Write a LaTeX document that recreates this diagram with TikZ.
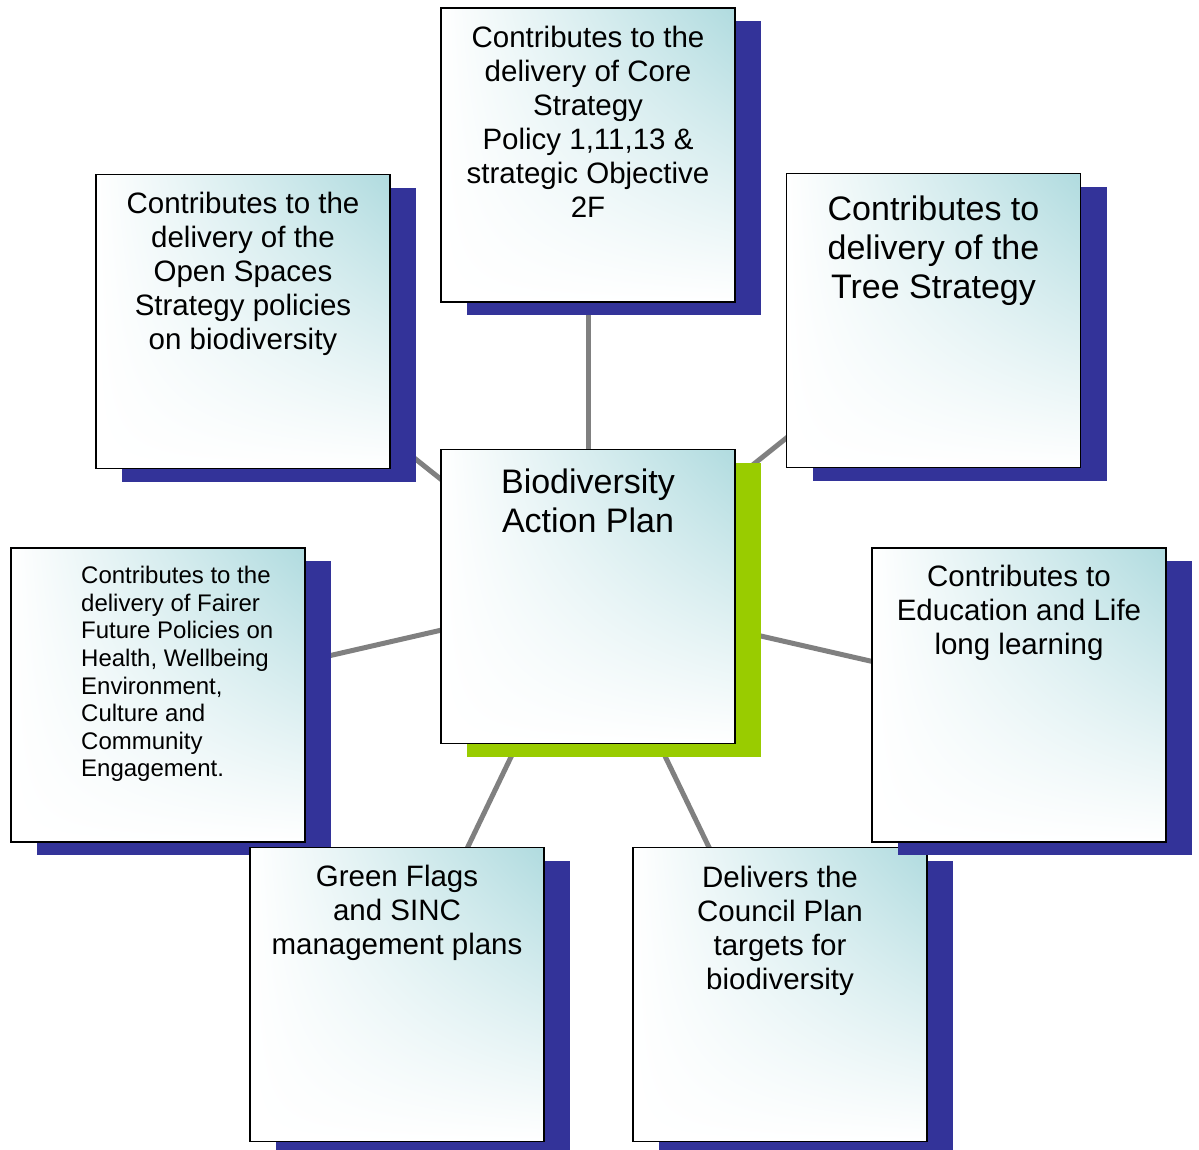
\documentclass[tikz,border=0pt]{standalone}
\usepackage{fontspec}
\setmainfont{Liberation Sans}
\usetikzlibrary{shadows,shadings}
\definecolor{tealc}{RGB}{176,219,223}
\definecolor{sblue}{RGB}{51,51,153}
\definecolor{sgreen}{RGB}{153,204,0}
\definecolor{lgray}{RGB}{128,128,128}
\pgfdeclarelayer{bg}
\pgfsetlayers{bg,main}
\begin{document}
\begin{tikzpicture}[x=1pt,y=-1pt,
  box/.style={draw=black, line width=1.8pt, minimum width=294pt, minimum height=294pt,
    inner sep=0pt, upper right=tealc, upper left=white, lower left=white, lower right=white},
  bshadow/.style={general shadow={fill=sblue, shadow xshift=26pt, shadow yshift=-13pt}},
  gshadow/.style={general shadow={fill=sgreen, shadow xshift=26pt, shadow yshift=-13pt}},
  conn/.style={draw=lgray, line width=5pt},
  lbl/.style={anchor=north, align=center, inner sep=0pt, text=black},
  fmid/.style={font=\fontsize{29.5}{34}\selectfont},
  fbig/.style={font=\fontsize{34}{39}\selectfont},
  fsmall/.style={font=\fontsize{24}{27.6}\selectfont}]
\useasboundingbox (0,0) rectangle (1199,1149);
\clip (0,0) rectangle (1199,1149);
% boxes
\node[box, gshadow] (c) at (588,596.5) {};
\node[lbl, fbig] (tc) at (588,469) {Biodiversity\\Action Plan};
\node[box, bshadow] (b1) at (588,155) {};
\node[lbl, fmid] (t1) at (588,26) {Contributes to the\\delivery of Core\\Strategy\\Policy 1,11,13 \&\\strategic Objective\\2F};
\node[box, bshadow] (b2) at (243,321.5) {};
\node[lbl, fmid] (t2) at (243,192) {Contributes to the\\delivery of the\\Open Spaces\\Strategy policies\\on biodiversity};
\node[box, bshadow] (b3) at (933.5,320.5) {};
\node[lbl, fbig] (t3) at (933.5,196) {Contributes to\\delivery of the\\Tree Strategy};
\node[box, bshadow] (b4) at (158,695) {};
\node[lbl, fsmall, anchor=north west, align=left] (t4) at (81,566) {Contributes to the\\delivery of Fairer\\Future Policies on\\Health, Wellbeing\\Environment,\\Culture and\\Community\\Engagement.};
\node[box, bshadow] (b5) at (397,994.5) {};
\node[lbl, fmid] (t5) at (397,865) {Green Flags\\and SINC\\management plans};
\node[box, bshadow] (b6) at (780,994.5) {};
\node[lbl, fmid] (t6) at (780,866) {Delivers the\\Council Plan\\targets for\\biodiversity};
\node[box, bshadow] (b7) at (1019,695) {};
\node[lbl, fmid] (t7) at (1019,565) {Contributes to\\Education and Life\\long learning};
% connectors behind
\begin{pgfonlayer}{bg}
\fill[white] (0,0) rectangle (1199,1149);
\draw[conn] (c.center) -- (b1.center);
\draw[conn] (c.center) -- (b2.center);
\draw[conn] (c.center) -- (b3.center);
\draw[conn] (c.center) -- (b4.center);
\draw[conn] (c.center) -- (b5.center);
\draw[conn] (c.center) -- (b6.center);
\draw[conn] (c.center) -- (b7.center);
\end{pgfonlayer}
\end{tikzpicture}
\end{document}
